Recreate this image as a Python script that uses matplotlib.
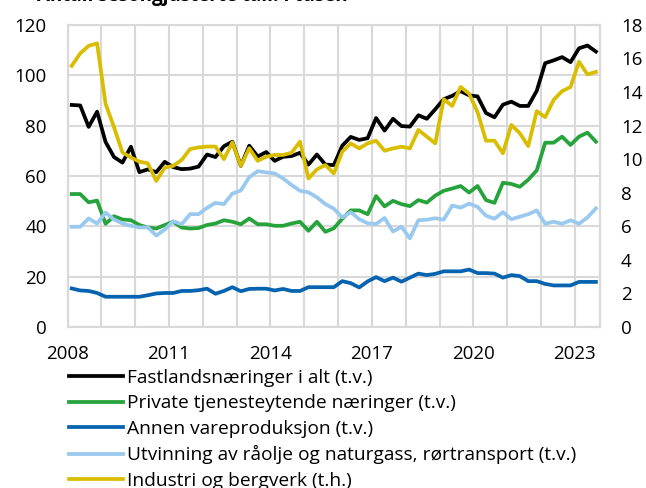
import matplotlib
matplotlib.use("Agg")
import matplotlib.pyplot as plt
import pandas as pd

plt.rcParams['font.family'] = ['Open Sans', 'DejaVu Sans']

#-- quarterly observations, 2008Q1 - 2023Q3
quarters = pd.period_range('2008Q1', '2023Q3', freq='Q')

fastland = [88.2, 88.0, 79.5, 85.5, 73.5, 67.5, 65.3, 71.6, 61.5, 62.6, 61.5, 65.6, 63.5, 62.7, 62.9, 63.7,
            68.5, 67.5, 71.8, 73.6, 64.0, 72.0, 67.7, 69.5, 66.0, 67.6, 67.9, 69.2, 64.5, 68.5, 64.5, 64.3,
            72.0, 75.5, 74.3, 75.0, 83.0, 78.0, 82.7, 79.8, 79.6, 84.1, 82.7, 86.5, 90.5, 91.8, 93.7, 92.0,
            91.6, 85.0, 83.3, 88.3, 89.5, 87.8, 87.8, 93.8, 104.8, 105.9, 107.2, 105.2, 110.7, 111.8, 109.4]

private_tj = [52.8, 52.8, 49.5, 50.2, 41.0, 44.0, 42.7, 42.4, 40.5, 39.5, 39.1, 40.5, 41.8, 39.5, 39.1, 39.3,
              40.5, 41.1, 42.4, 41.8, 40.8, 43.1, 40.8, 40.8, 40.2, 40.2, 41.1, 41.8, 38.2, 41.8, 37.8, 39.2,
              43.0, 46.3, 46.3, 44.8, 52.0, 47.9, 50.1, 48.8, 48.0, 50.4, 49.4, 52.2, 54.1, 55.0, 56.0, 53.4,
              56.0, 50.4, 49.3, 57.3, 56.8, 55.7, 58.5, 62.2, 73.2, 73.2, 75.6, 72.3, 75.6, 77.2, 73.6]

annen_vare = [15.3, 14.5, 14.3, 13.5, 12.0, 12.0, 12.0, 12.0, 12.0, 12.6, 13.3, 13.5, 13.5, 14.3, 14.3, 14.6,
              15.2, 13.2, 14.3, 15.8, 14.2, 15.1, 15.2, 15.2, 14.5, 15.1, 14.3, 14.3, 15.8, 15.8, 15.8, 15.8,
              18.2, 17.4, 15.7, 18.1, 19.8, 18.2, 19.6, 18.0, 19.6, 21.2, 20.6, 21.1, 22.1, 22.1, 22.1, 22.8,
              21.4, 21.4, 21.2, 19.6, 20.6, 20.2, 18.2, 18.2, 17.1, 16.5, 16.5, 16.5, 17.9, 17.9, 17.9]

utvinning = [39.8, 39.8, 43.1, 41.1, 45.4, 42.7, 41.1, 40.2, 39.5, 39.6, 36.3, 38.7, 42.0, 40.8, 44.8, 44.8,
             47.3, 49.3, 48.8, 53.0, 54.2, 59.5, 61.9, 61.4, 61.0, 59.0, 56.4, 54.1, 53.5, 51.5, 48.8, 47.0,
             43.5, 45.6, 42.8, 41.2, 40.9, 43.3, 37.9, 39.8, 35.2, 42.4, 42.6, 43.2, 42.6, 48.2, 47.4, 49.0,
             47.7, 44.2, 43.0, 45.6, 42.8, 43.8, 44.8, 46.3, 41.0, 41.8, 41.0, 42.4, 41.0, 43.5, 47.1]

#-- right axis
industri = [15.56, 16.3, 16.75, 16.9, 13.3, 11.9, 10.4, 10.1, 9.85, 9.75, 8.7, 9.5, 9.6, 9.95, 10.6, 10.7,
            10.75, 10.75, 10.0, 11.0, 9.6, 10.65, 9.9, 10.14, 10.25, 10.25, 10.38, 11.04, 8.85, 9.39, 9.65, 9.15,
            10.45, 10.94, 10.64, 10.94, 11.1, 10.5, 10.64, 10.74, 10.64, 11.74, 11.34, 10.94, 13.57, 13.17, 14.3, 13.9,
            12.8, 11.1, 11.1, 10.35, 12.04, 11.54, 10.78, 12.86, 12.5, 13.53, 14.05, 14.3, 15.8, 15.05, 15.2]

labels = ['Fastlandsnæringer i alt (t.v.)',
          'Private tjenesteytende næringer (t.v.)',
          'Annen vareproduksjon (t.v.)',
          'Utvinning av råolje og naturgass, rørtransport (t.v.)',
          'Industri og bergverk (t.h.)']
colors = ['#000000', '#26a33b', '#0563b0', '#99c9ee', '#d9bd00']

#-- x position at the middle of each quarter
x = [q.year + (q.quarter - 0.5) / 4 for q in quarters]

fig = plt.figure(figsize=(6.46, 4.88), dpi=100)
ax = fig.add_axes([0.1045, 0.33, 0.8245, 0.619])
ax2 = ax.twinx()

lw = 2.7
h = []
for ys, lab, col in zip([fastland, private_tj, annen_vare, utvinning], labels[:4], colors[:4]):
    h += ax.plot(x, ys, color=col, lw=lw, label=lab)
h += ax2.plot(x, industri, color=colors[4], lw=lw, label=labels[4])

#-- axes limits and ticks
grid_col = '#d9d9d9'
ax.set_xlim(2008, 2023.75)
ax.set_ylim(0, 120)
ax2.set_ylim(0, 18)
ax.set_yticks(range(0, 121, 20))
ax2.set_yticks(range(0, 19, 2))
years = list(range(2008, 2024))
ax.set_xticks(years)
ax.set_xticklabels([str(y) if (y - 2008) % 3 == 0 else '' for y in years])

ax.grid(True, color=grid_col, lw=1.5)
ax.set_axisbelow(True)
for a in (ax, ax2):
    for s in a.spines.values():
        s.set_color(grid_col)
        s.set_linewidth(1.5)
    a.tick_params(length=0, labelsize=13.5, colors='#000000')
ax.tick_params(axis='y', pad=15)
ax2.tick_params(axis='y', pad=15)
ax.tick_params(axis='x', pad=13)

#-- title line, only its lower edge falls inside the figure
fig.text(0.057, 0.997, 'Antall sesongjusterte tall. I tusen', fontsize=13.5,
         fontweight='bold', va='baseline', ha='left')

#-- legend below the plot
fig.legend(h, labels, loc='upper left', bbox_to_anchor=(0.107, 0.244), frameon=False,
           fontsize=13.8, handlelength=2.8, handletextpad=0.22, labelspacing=0.39,
           borderaxespad=0, borderpad=0)

plt.savefig('out.png', dpi=100)
